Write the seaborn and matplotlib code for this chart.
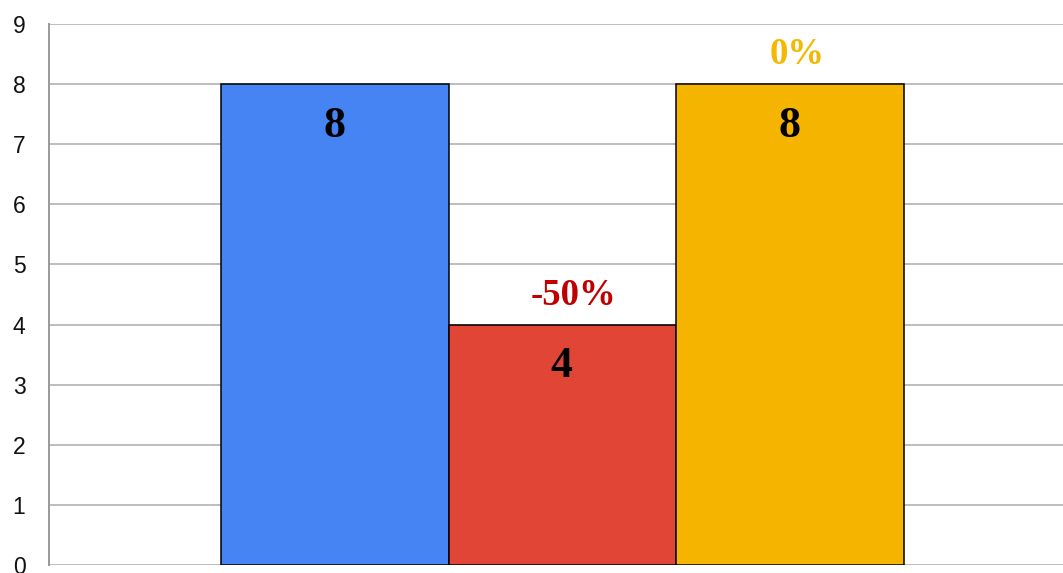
import matplotlib
matplotlib.use("Agg")
import matplotlib.pyplot as plt
import pandas as pd
import seaborn as sns

# values
categories = ["A", "B", "C"]
values = [8, 4, 8]
change_labels = ["", "-50%", "0%"]
bar_colors = ["#4684F4", "#E04536", "#F4B400"]
change_colors = ["#000000", "#C00000", "#F4B800"]
y_ticks = list(range(0, 10))

sns.set_theme(style="white")
plt.rcParams['font.family'] = ['Liberation Sans', 'DejaVu Sans']

df = pd.DataFrame({"category": categories, "value": values})

fig = plt.figure(figsize=(10.63, 5.73), dpi=100)
ax = fig.add_axes([49 / 1063, 8 / 573, 1 - 49 / 1063, (565 - 24) / 573])

sns.barplot(data=df, x="category", y="value", hue="category", palette=bar_colors,
            width=1.0, dodge=False, legend=False, edgecolor="black", linewidth=1.1,
            saturation=1, ax=ax, zorder=3)

ax.set_xlim(-1.256, 3.2)
ax.set_ylim(0, 9)
ax.set_yticks(y_ticks)
ax.set_xticks([])
ax.set_xlabel("")
ax.set_ylabel("")
ax.yaxis.grid(True, color="#bdbdbd", linewidth=1.4, zorder=0)
ax.set_axisbelow(True)
ax.tick_params(axis="y", length=0, pad=17, labelsize=16.5, labelcolor="#111111")

for side in ["top", "right", "bottom"]:
    ax.spines[side].set_visible(False)
ax.spines["left"].set_color("#999999")
ax.spines["left"].set_linewidth(1.4)

serif = ['Liberation Serif', 'DejaVu Serif']
for i, (v, lab, col) in enumerate(zip(values, change_labels, change_colors)):
    ax.annotate(str(v), (i, v), xytext=(-0.5, -30), textcoords="offset points",
                ha="center", va="center", fontsize=31.5, fontweight="bold",
                family=serif, color="black", zorder=5)
    if lab:
        ax.annotate(lab, (i, v), xytext=(2 + 1.5 * len(lab), 21), textcoords="offset points",
                    ha="center", va="center", fontsize=26.5, fontweight="bold",
                    family=serif, color=col, zorder=5)

fig.savefig("out.png", dpi=100)
